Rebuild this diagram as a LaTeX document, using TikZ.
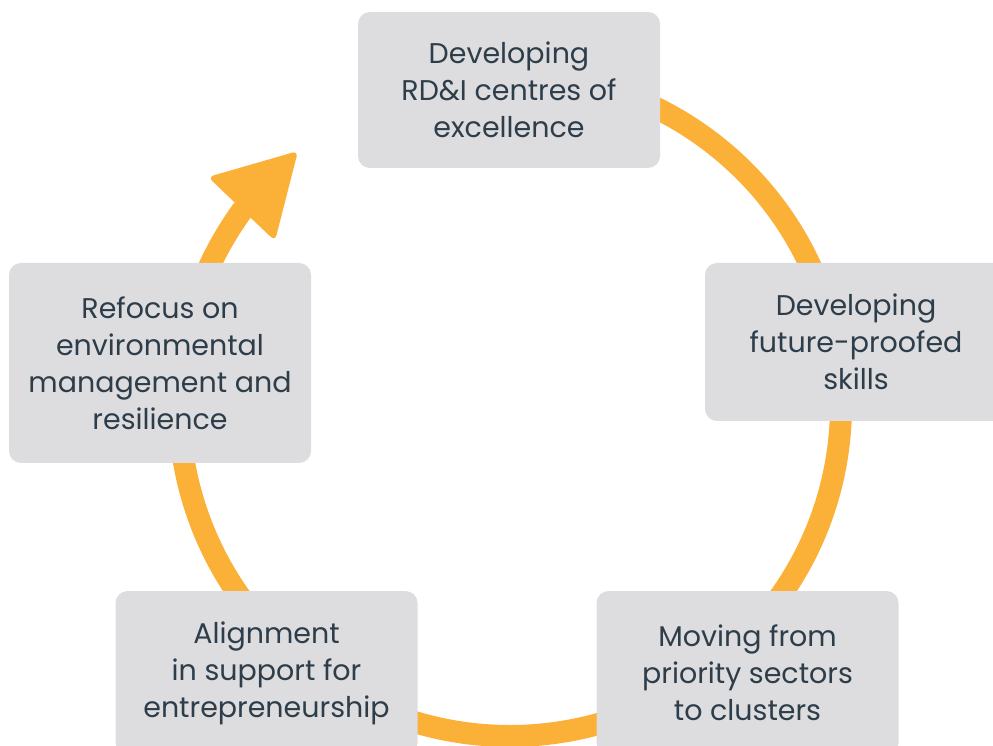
\documentclass[tikz,border=0pt]{standalone}
\usepackage{fontspec}
\setmainfont{Poppins}
\definecolor{ringorange}{HTML}{FBB138}
\definecolor{boxgray}{HTML}{DDDDDF}
\definecolor{textslate}{HTML}{2E3D4A}
\begin{document}
\begin{tikzpicture}[x=1pt,y=1pt,
  stagebox/.style={fill=boxgray, rounded corners=12pt, minimum width=302pt, inner sep=0pt,
    align=center, text=textslate, font={\fontsize{28.5}{37}\selectfont}},
  ring/.style={draw=ringorange, line width=22pt}]
\useasboundingbox (0,0) rectangle (993,745);
\begin{scope}
\clip (0,0) rectangle (993,745);
% ring
\draw[ring] (510,340) ++(143.7:331pt) arc[start angle=143.7, end angle=440, radius=331pt];
% arrowhead
\fill[ringorange, rounded corners=6pt] (298,594) -- (208,568) -- (275,504) -- cycle;
% boxes
\node[stagebox, minimum height=156pt] (top) at (509,655) {Developing\\RD\&I centres of\\excellence};
\node[stagebox, minimum height=158pt] (right) at (856,403) {Developing\\future-proofed\\skills};
\node[stagebox, minimum height=200pt] (left) at (160,382) {Refocus on\\environmental\\management and\\resilience};
\node[stagebox, minimum height=164pt] (botleft) at (266.5,72) {Alignment\\in support for\\entrepreneurship};
\node[stagebox, minimum height=164pt] (botright) at (747.5,72) {Moving from\\priority sectors\\to clusters};
\end{scope}
\end{tikzpicture}
\end{document}
